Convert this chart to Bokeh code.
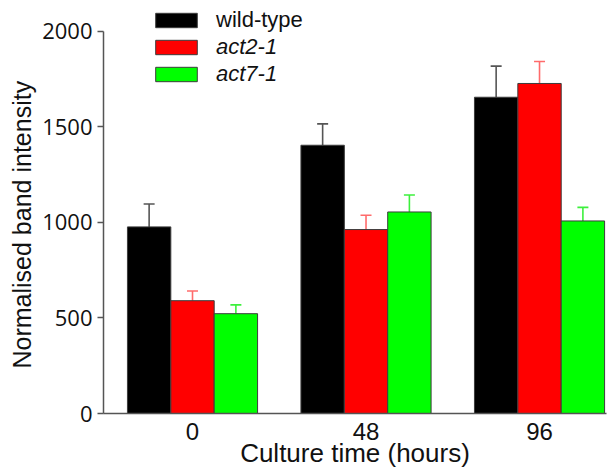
import numpy as np
from bokeh.plotting import figure
from bokeh.models import (ColumnDataSource, FixedTicker, Range1d, Legend, LegendItem,
                          Whisker, TeeHead, Title)
from bokeh.embed import file_html
from bokeh.resources import INLINE

# ---- data ----
times = ["0", "48", "96"]
series = ["wild-type", "act2-1", "act7-1"]
wild_type = [976, 1403, 1654]
wild_type_err = [120, 112, 163]
act2_1 = [590, 962, 1726]
act2_1_err = [51, 75, 115]
act7_1 = [522, 1054, 1007]
act7_1_err = [46, 89, 71]
y_ticks = [0, 500, 1000, 1500, 2000]

fills = ["#000000", "#ff0000", "#00ff00"]
err_colors = ["#555555", "#ff6b6b", "#3cf03c"]
italic = ["normal", "italic", "italic"]
values = [wild_type, act2_1, act7_1]
errors = [wild_type_err, act2_1_err, act7_1_err]
offsets = [-0.25, 0.0, 0.25]
bar_w = 0.25

p = figure(width=607, height=473, output_backend="svg", toolbar_location=None,
           x_range=Range1d(-0.513, 2.386), y_range=Range1d(0, 2160),
           min_border_left=103, min_border_right=1, min_border_top=0, min_border_bottom=60)
p.outline_line_color = None
p.xgrid.visible = False
p.ygrid.visible = False
p.background_fill_color = "white"

AX = "#555555"
FONT = "Liberation Sans"

renderers = []
for i in range(3):
    pos = np.arange(len(times)) + offsets[i]
    src = ColumnDataSource(dict(x=pos, top=values[i],
                                upper=np.array(values[i]) + np.array(errors[i])))
    w = Whisker(source=src, base="x", lower="top", upper="upper",
                line_color=err_colors[i], line_width=1.6,
                lower_head=None,
                upper_head=TeeHead(size=11, line_color=err_colors[i], line_width=1.6))
    p.add_layout(w)
    r = p.vbar(x="x", top="top", width=bar_w, source=src, fill_color=fills[i],
               line_color="#3c3c3c", line_width=1)
    renderers.append(r)

# axes
xa = p.xaxis[0]
xa.ticker = FixedTicker(ticks=list(range(len(times))))
xa.major_label_overrides = {i: t for i, t in enumerate(times)}
xa.major_tick_out = 0
xa.major_tick_in = 0
xa.minor_tick_out = 0
xa.minor_tick_in = 0
xa.axis_line_color = AX
xa.axis_line_width = 1.5
xa.major_label_text_font = FONT
xa.major_label_text_font_size = "24px"
xa.major_label_text_color = "#111111"
xa.major_label_standoff = 9
xa.axis_label = "Culture time (hours)"
xa.axis_label_text_font = FONT
xa.axis_label_text_font_size = "26px"
xa.axis_label_text_font_style = "normal"
xa.axis_label_text_color = "#111111"
xa.axis_label_standoff = -5

ya = p.yaxis[0]
ya.ticker = FixedTicker(ticks=y_ticks)
ya.bounds = (0, 2000)
ya.major_tick_out = 6
ya.major_tick_in = 0
ya.minor_tick_out = 0
ya.minor_tick_in = 0
ya.axis_line_color = AX
ya.axis_line_width = 1.5
ya.major_tick_line_color = AX
ya.major_tick_line_width = 1.5
ya.major_label_text_font = "Open Sans"
ya.major_label_text_font_size = "22px"
ya.major_label_text_color = "#111111"
ya.major_label_standoff = 5

p.add_layout(Title(text="Normalised band intensity", align="left", offset=45,
                   text_font=FONT, text_font_size="25px", text_font_style="normal",
                   text_color="#111111", standoff=7), "left")

# legends (one per item, so italic can differ)
leg_bottoms = [380, 353, 326]
for i in range(3):
    lg = Legend(items=[LegendItem(label=series[i], renderers=[renderers[i]])],
                location=(47, leg_bottoms[i]), orientation="vertical",
                glyph_width=52, glyph_height=18, label_standoff=14,
                padding=0, margin=0, spacing=0,
                border_line_color=None, background_fill_alpha=0,
                label_text_font=FONT, label_text_font_size="22px",
                label_text_font_style=italic[i], label_text_color="#111111")
    p.add_layout(lg, "center")

open("out.html", "w").write(file_html(p, INLINE))
